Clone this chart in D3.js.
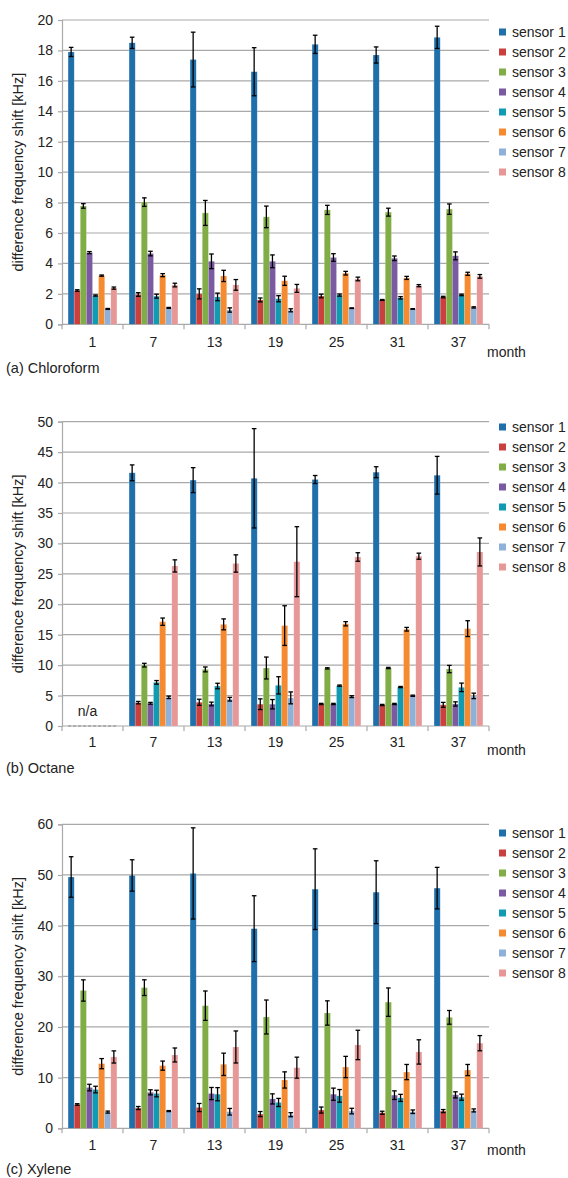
<!DOCTYPE html>
<html>
<head>
<meta charset="utf-8">
<script src="https://cdn.jsdelivr.net/npm/d3@7"></script>
<style>
  body { margin: 0; background: #fff; }
  svg { display: block; font-family: "Liberation Sans", Arial, sans-serif; }
</style>
</head>
<body>
<svg id="chart" width="568" height="1178"></svg>
<script>
// ---------- data ----------
const months = ["1", "7", "13", "19", "25", "31", "37"];
const sensors = ["sensor 1", "sensor 2", "sensor 3", "sensor 4", "sensor 5", "sensor 6", "sensor 7", "sensor 8"];
const sensorColors = ["#1f6fab", "#c9403e", "#80ad45", "#7a5aa0", "#119bb3", "#f58a30", "#8eb1da", "#e89797"];

// rows = months, columns = sensors 1..8
const chloroformMean = [
  [17.9, 2.22, 7.78, 4.71, 1.89, 3.2, 1.01, 2.38],
  [18.5, 1.96, 8.03, 4.65, 1.85, 3.23, 1.08, 2.58],
  [17.4, 2.0, 7.32, 4.14, 1.8, 3.18, 0.94, 2.59],
  [16.6, 1.6, 7.06, 4.14, 1.68, 2.86, 0.92, 2.36],
  [18.4, 1.86, 7.52, 4.39, 1.92, 3.36, 1.06, 2.98],
  [17.7, 1.6, 7.37, 4.34, 1.74, 3.05, 1.01, 2.54],
  [18.86, 1.79, 7.57, 4.5, 1.93, 3.32, 1.11, 3.15]
];
const chloroformErr = [
  [0.3, 0.05, 0.15, 0.07, 0.04, 0.04, 0.03, 0.07],
  [0.37, 0.12, 0.28, 0.15, 0.13, 0.1, 0.03, 0.12],
  [1.8, 0.33, 0.82, 0.48, 0.25, 0.37, 0.14, 0.35],
  [1.58, 0.13, 0.71, 0.42, 0.2, 0.3, 0.1, 0.26],
  [0.6, 0.12, 0.3, 0.25, 0.07, 0.12, 0.02, 0.12],
  [0.53, 0.03, 0.26, 0.15, 0.08, 0.1, 0.02, 0.07],
  [0.73, 0.05, 0.34, 0.26, 0.05, 0.1, 0.04, 0.12]
];
const octaneMean = [
  null,
  [41.6, 3.84, 10.0, 3.73, 7.17, 17.14, 4.71, 26.3],
  [40.4, 3.9, 9.3, 3.62, 6.57, 16.7, 4.4, 26.7],
  [40.7, 3.58, 9.53, 3.58, 6.68, 16.5, 4.62, 27.0],
  [40.5, 3.62, 9.47, 3.62, 6.63, 16.8, 4.82, 27.77],
  [41.7, 3.45, 9.53, 3.62, 6.4, 15.9, 4.97, 27.9],
  [41.2, 3.48, 9.36, 3.62, 6.35, 16.0, 4.95, 28.6]
];
const octaneErr = [
  null,
  [1.3, 0.2, 0.3, 0.15, 0.3, 0.6, 0.2, 1.0],
  [2.05, 0.5, 0.4, 0.3, 0.45, 0.9, 0.3, 1.42],
  [8.16, 0.88, 1.8, 0.77, 1.42, 3.26, 0.98, 5.75],
  [0.66, 0.1, 0.1, 0.1, 0.1, 0.35, 0.15, 0.7],
  [0.9, 0.1, 0.1, 0.1, 0.1, 0.3, 0.1, 0.5],
  [3.1, 0.4, 0.6, 0.35, 0.7, 1.3, 0.45, 2.3]
];
const xyleneMean = [
  [49.6, 4.7, 27.2, 8.04, 7.65, 12.76, 3.2, 14.08],
  [49.9, 4.0, 27.76, 7.1, 6.86, 12.37, 3.4, 14.47],
  [50.3, 4.1, 24.2, 6.86, 6.73, 12.63, 3.27, 16.05],
  [39.4, 2.81, 21.97, 5.8, 5.1, 9.54, 2.68, 11.97],
  [47.2, 3.6, 22.76, 6.73, 6.4, 12.1, 3.4, 16.45],
  [46.6, 3.07, 24.9, 6.54, 6.0, 11.1, 3.27, 15.07],
  [47.4, 3.4, 21.9, 6.6, 6.14, 11.5, 3.53, 16.8]
];
const xyleneErr = [
  [4.0, 0.15, 2.1, 0.65, 0.65, 1.0, 0.2, 1.2],
  [3.1, 0.3, 1.55, 0.5, 0.65, 0.9, 0.1, 1.38],
  [9.0, 0.8, 2.9, 1.2, 1.3, 2.2, 0.65, 3.16],
  [6.5, 0.5, 3.35, 1.0, 0.8, 1.6, 0.4, 2.07],
  [7.96, 0.6, 2.4, 1.2, 1.25, 2.1, 0.55, 2.9],
  [6.2, 0.3, 2.8, 0.85, 0.7, 1.5, 0.35, 2.4],
  [4.1, 0.3, 1.35, 0.6, 0.6, 1.1, 0.3, 1.5]
];
const chloroformTicks = [0, 2, 4, 6, 8, 10, 12, 14, 16, 18, 20];
const octaneTicks = [0, 5, 10, 15, 20, 25, 30, 35, 40, 45, 50];
const xyleneTicks = [0, 10, 20, 30, 40, 50, 60];
const panelTitles = ["(a) Chloroform", "(b) Octane", "(c) Xylene"];
const yTitle = "difference frequency shift [kHz]";
const xTitle = "month";
const naLabel = "n/a";

// ---------- layout ----------
const panels = [
  { title: panelTitles[0], mean: chloroformMean, err: chloroformErr, ticks: chloroformTicks, top: 20, bottom: 324.3, legendTop: 32, labelY: 347, monthY: 357, titleY: 373 },
  { title: panelTitles[1], mean: octaneMean, err: octaneErr, ticks: octaneTicks, top: 421.7, bottom: 726, legendTop: 427, labelY: 747, monthY: 755, titleY: 773 },
  { title: panelTitles[2], mean: xyleneMean, err: xyleneErr, ticks: xyleneTicks, top: 824.3, bottom: 1128.3, legendTop: 833, labelY: 1150, monthY: 1155, titleY: 1174 }
];
const left = 62, right = 489;
const gridColor = "#a9a9a9";
const textColor = "#222";
const fs = 14;

const svg = d3.select("#chart");

panels.forEach(p => {
  const g = svg.append("g");
  const yMax = d3.max(p.ticks);
  const y = d3.scaleLinear().domain([0, yMax]).range([p.bottom, p.top]);
  const x0 = d3.scaleBand().domain(months).range([left, right]).paddingInner(0.2).paddingOuter(0.1);
  const x1 = d3.scaleBand().domain(sensors).range([0, x0.bandwidth()]);
  const color = d3.scaleOrdinal().domain(sensors).range(sensorColors);

  // gridlines
  g.append("g").selectAll("line").data(p.ticks.filter(t => t > 0)).join("line")
    .attr("x1", left).attr("x2", right)
    .attr("y1", d => y(d)).attr("y2", d => y(d))
    .attr("stroke", gridColor).attr("stroke-width", 1.2);

  // y axis
  const yAxis = d3.axisLeft(y).tickValues(p.ticks).tickSize(4).tickPadding(5).tickFormat(d3.format("d"));
  const ya = g.append("g").attr("transform", `translate(${left},0)`).call(yAxis);
  ya.select(".domain").attr("stroke", gridColor).attr("stroke-width", 1.2);
  ya.selectAll(".tick line").attr("stroke", gridColor).attr("stroke-width", 1.2);
  ya.selectAll(".tick text").attr("font-size", fs).attr("fill", textColor)
    .attr("font-family", "Liberation Sans, Arial, sans-serif");

  // x axis line + category boundary ticks
  g.append("line").attr("x1", left).attr("x2", right).attr("y1", p.bottom).attr("y2", p.bottom)
    .attr("stroke", gridColor).attr("stroke-width", 1.2);
  const half = (x0.step() - x0.bandwidth()) / 2;
  const bounds = months.map(m => x0(m) - half).concat([x0(months[months.length - 1]) + x0.bandwidth() + half]);
  g.append("g").selectAll("line").data(bounds).join("line")
    .attr("x1", d => d).attr("x2", d => d).attr("y1", p.bottom).attr("y2", p.bottom + 5)
    .attr("stroke", gridColor).attr("stroke-width", 1.2);
  g.append("g").selectAll("text").data(months).join("text")
    .attr("x", d => x0(d) + x0.bandwidth() / 2).attr("y", p.labelY)
    .attr("text-anchor", "middle").attr("font-size", fs).attr("fill", textColor)
    .text(d => d);

  // bars
  const groups = g.append("g").selectAll("g").data(months.map((m, i) => ({ m, vals: p.mean[i], errs: p.err[i] }))).join("g")
    .attr("transform", d => `translate(${x0(d.m)},0)`);
  groups.each(function (d) {
    const gg = d3.select(this);
    if (!d.vals) {
      // n/a marker
      gg.append("line").attr("x1", 0).attr("x2", x0.bandwidth()).attr("y1", p.bottom).attr("y2", p.bottom)
        .attr("stroke", "#888").attr("stroke-width", 1.2).attr("stroke-dasharray", "3,2");
      gg.append("text").attr("x", x0.bandwidth() / 2 - 5).attr("y", p.bottom - 10)
        .attr("text-anchor", "middle").attr("font-size", fs).attr("fill", textColor).text(naLabel);
      return;
    }
    const rows = sensors.map((s, k) => ({ s, v: d.vals[k], e: d.errs[k] }));
    gg.selectAll("rect").data(rows).join("rect")
      .attr("x", r => x1(r.s)).attr("width", x1.bandwidth())
      .attr("y", r => y(r.v)).attr("height", r => y(0) - y(r.v))
      .attr("fill", r => color(r.s))
      .attr("stroke", "rgba(255,255,255,0.25)").attr("stroke-width", 0.6);
    const eb = gg.selectAll("g.err").data(rows).join("g").attr("class", "err")
      .attr("stroke", "#000").attr("stroke-width", 1.3);
    eb.append("line")
      .attr("x1", r => x1(r.s) + x1.bandwidth() / 2).attr("x2", r => x1(r.s) + x1.bandwidth() / 2)
      .attr("y1", r => y(r.v + r.e)).attr("y2", r => y(r.v - r.e));
    eb.append("line")
      .attr("x1", r => x1(r.s) + x1.bandwidth() / 2 - 2.3).attr("x2", r => x1(r.s) + x1.bandwidth() / 2 + 2.3)
      .attr("y1", r => y(r.v + r.e)).attr("y2", r => y(r.v + r.e));
    eb.append("line")
      .attr("x1", r => x1(r.s) + x1.bandwidth() / 2 - 2.3).attr("x2", r => x1(r.s) + x1.bandwidth() / 2 + 2.3)
      .attr("y1", r => y(r.v - r.e)).attr("y2", r => y(r.v - r.e));
  });

  // y title
  g.append("text")
    .attr("transform", `translate(23,${(p.top + p.bottom) / 2}) rotate(-90)`)
    .attr("text-anchor", "middle").attr("font-size", 14.5).attr("fill", textColor)
    .text(yTitle);

  // month label
  g.append("text").attr("x", 487).attr("y", p.monthY).attr("font-size", fs).attr("fill", textColor).text(xTitle);

  // panel title
  g.append("text").attr("x", 6).attr("y", p.titleY).attr("font-size", 14.5).attr("fill", textColor).text(p.title);

  // legend
  const lg = g.append("g").selectAll("g").data(sensors).join("g")
    .attr("transform", (d, i) => `translate(499,${p.legendTop + i * 20})`);
  lg.append("rect").attr("x", 0).attr("y", -3.5).attr("width", 7).attr("height", 7).attr("fill", d => color(d));
  lg.append("text").attr("x", 13).attr("y", 5).attr("font-size", fs).attr("fill", textColor).text(d => d);
});
</script>
</body>
</html>
